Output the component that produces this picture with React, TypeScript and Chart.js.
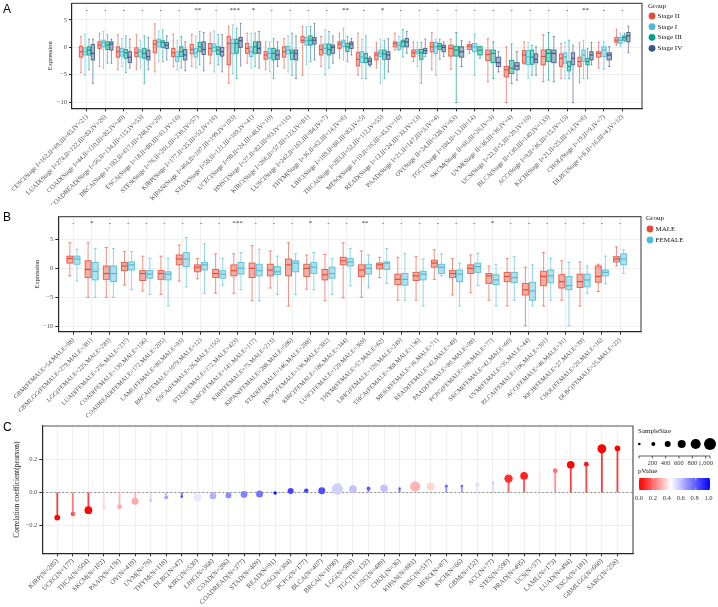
import React, { useEffect, useRef } from "react";
import { Chart, registerables } from "chart.js";

Chart.register(...registerables);

const SERIF = '"Liberation Serif", "DejaVu Serif", serif';
const SANS = '"Liberation Sans", Arial, sans-serif';
const GRID = "#EBEBEB";
const AXIS = "#262626";
const TICKTXT = "#4D4D4D";

// ---------------- Panel A : expression by stage ----------------
const stageNames = ["Stage II", "Stage I", "Stage III", "Stage IV"];
const stageColors = ["#E64B35", "#4DBBD5", "#00A087", "#3C5488"];
const categoriesA = [
  "CESC(Stage I=162,II=69,III=45,IV=21)",
  "LUAD(Stage I=274,II=122,III=83,IV=26)",
  "COAD(Stage I=44,II=110,III=82,IV=40)",
  "COADREAD(Stage I=56,II=134,III=115,IV=53)",
  "BRCA(Stage I=182,II=617,III=248,IV=20)",
  "ESCA(Stage I=18,II=80,III=61,IV=16)",
  "STES(Stage I=76,II=201,III=230,IV=57)",
  "KIRP(Stage I=177,II=25,III=52,IV=16)",
  "KIPAN(Stage I=464,II=107,III=199,IV=103)",
  "STAD(Stage I=58,II=121,III=169,IV=41)",
  "UCEC(Stage I=98,II=24,III=48,IV=10)",
  "HNSC(Stage I=27,II=82,III=93,IV=116)",
  "KIRC(Stage I=266,II=57,III=123,IV=81)",
  "LUSC(Stage I=242,II=161,III=84,IV=7)",
  "THYM(Stage I=36,II=62,III=14,IV=6)",
  "LIHC(Stage I=169,II=86,III=83,IV=5)",
  "THCA(Stage I=283,II=52,III=112,IV=55)",
  "MESO(Stage I=10,II=16,III=45,IV=16)",
  "READ(Stage I=12,II=24,III=33,IV=13)",
  "PAAD(Stage I=21,II=147,III=3,IV=4)",
  "OV(Stage II=24,III=328,IV=63)",
  "TGCT(Stage I=104,II=13,III=14)",
  "SKCM(Stage II=66,III=26,IV=3)",
  "UVM(Stage II=38,III=36,IV=4)",
  "UCS(Stage I=22,II=5,III=20,IV=10)",
  "BLCA(Stage II=130,III=140,IV=133)",
  "ACC(Stage I=9,II=36,III=15,IV=15)",
  "KICH(Stage I=21,II=25,III=14,IV=6)",
  "CHOL(Stage I=19,II=9,IV=7)",
  "DLBC(Stage I=8,II=16,III=4,IV=12)",
];
const signifA = ["-", "-", "-", "-", "-", "-", "**", "-", "***", "*", "-", "-", "-", "-", "**", "-", "*", "-", "-", "-", "-", "-", "-", "-", "-", "-", "-", "**", "-", "-"];
// each entry: [lower whisker, Q1, median, Q3, upper whisker]
const stageII_A = [
  [-4.6, -1.8, -0.8, 0.2, 2.0], [-3.5, -0.2, 0.4, 1.0, 2.6], [-4.1, -1.8, -0.8, 0.1, 2.3], [-4.1, -1.7, -1.0, -0.1, 2.3],
  [-4.5, -1.0, 0.6, 1.3, 4.3], [-3.5, -1.7, -1.0, -0.2, 2.4], [-3.5, -1.2, -0.4, 0.5, 2.4], [-3.0, -1.4, -0.2, 0.7, 2.6],
  [-6.6, -3.2, 0.7, 2.0, 3.8], [-2.9, -1.1, -0.2, 0.7, 2.6], [-4.1, -2.2, -1.4, -0.8, 1.0], [-3.8, -1.8, -0.8, 0.1, 1.6],
  [-5.1, 0.9, 1.3, 2.0, 3.8], [-3.5, -1.4, -0.4, 0.4, 2.0], [-2.0, -0.2, 0.6, 1.0, 2.6], [-5.1, -3.4, -2.2, -0.9, 2.6],
  [-3.8, -2.3, -1.4, -0.9, 0.9], [-0.5, 0.1, 0.7, 1.0, 2.6], [-2.6, -1.7, -1.0, -0.5, 1.0], [-4.1, -0.8, 0.1, 0.9, 2.7],
  [-4.0, -1.6, -0.2, 0.4, 1.5], [-1.1, -0.4, 0.2, 0.5, 1.0], [-6.3, -2.4, -1.3, -0.5, 1.6], [-10.1, -5.4, -4.1, -3.5, 0.1],
  [-3.1, -2.9, -1.4, -0.6, 1.0], [-6.3, -3.2, -1.7, -0.5, 2.3], [-5.7, -3.5, -2.0, -1.2, 0.7], [-6.5, -3.5, -2.6, -1.8, 0.9],
  [-3.8, -1.8, -1.1, -0.8, 0.9], [0.4, 0.9, 1.3, 1.8, 3.3],
];
const stageI_A = [
  [-5.1, -1.4, -0.8, -0.1, 2.4], [-3.8, 0.1, 0.9, 1.3, 2.9], [-3.5, -1.6, -0.8, -0.2, 1.6], [-3.8, -1.8, -0.8, -0.4, 1.3],
  [-2.6, 0.1, 1.0, 1.5, 3.0], [-4.1, -2.6, -1.7, -0.8, 1.3], [-3.8, -1.8, -1.0, -0.2, 2.0], [-4.5, -0.8, 0, 0.6, 3.0],
  [-4.8, -1.2, 0.7, 1.5, 4.1], [-3.8, -1.7, -0.8, 0.1, 2.6], [-4.5, -2.0, -1.1, -0.2, 1.0], [-4.5, -1.2, -0.5, 0.2, 2.1],
  [-3.2, 0.4, 1.2, 1.8, 3.8], [-5.1, -1.1, -0.2, 0.6, 3.2], [-2.3, 0.1, 0.9, 1.3, 3.5], [-5.7, -2.8, -1.8, -0.8, 1.5],
  [-6.6, -1.7, -1.1, -0.5, 1.5], [-0.6, -0.4, 0.4, 0.9, 2.0], [-3.5, -1.2, -0.8, -0.4, 0.9], [-5.1, -1.1, 0.1, 0.9, 1.5],
  null, [-5.1, -0.8, 0.1, 0.7, 2.4], null, null,
  [-5.7, -3.2, -1.7, -0.6, 0.9], null, [-5.7, -2.9, -1.7, -1.0, 0.9], [-5.7, -2.6, -1.4, -0.5, 1.3],
  [-4.0, -1.7, -0.5, 0.1, 1.0], [0.1, 0.7, 1.3, 1.8, 2.6],
];
const stageIII_A = [
  [-4.1, -1.4, -0.5, 0.1, 1.5], [-2.9, -0.4, 0.4, 1.0, 2.3], [-4.6, -2.0, -1.0, -0.4, 2.1], [-6.6, -2.0, -1.1, -0.2, 2.1],
  [-2.6, 0, 0.9, 1.2, 3.2], [-3.8, -1.7, -0.8, 0.1, 2.0], [-3.2, -0.8, 0.1, 0.9, 2.9], [-3.2, -1.3, -0.5, 0.1, 2.3],
  [-5.7, -1.1, 0.7, 1.5, 3.5], [-3.5, -1.1, 0.1, 1.0, 2.6], [-5.7, -2.3, -1.1, -0.2, 1.6], [-5.1, -2.2, -1.0, -0.5, 2.6],
  [-2.6, 0.4, 1.3, 2.1, 3.8], [-3.8, -1.4, -0.4, 0.6, 2.9], [-2.6, -0.8, 0.1, 0.7, 2.0], [-5.7, -2.8, -2.0, -1.1, 2.1],
  [-5.7, -2.2, -1.2, -0.5, 1.3], [-1.8, 0.1, 1.0, 1.3, 3.3], [-6.6, -2.2, -1.0, -0.4, 0.9], [-2.2, -0.4, 0.2, 0.7, 1.5],
  [-10.1, -1.6, -0.5, 0.2, 2.7], [-2.0, -1.4, -0.5, 0.1, 0.2], [-5.7, -2.8, -1.1, -0.5, 1.0], [-6.6, -4.8, -3.8, -2.4, 0.6],
  [-5.1, -3.1, -1.8, -0.5, 0.4], [-6.0, -2.6, -1.1, -0.4, 2.7], [-5.7, -4.3, -3.5, -2.6, 1.3], [-5.7, -3.2, -2.6, -2.0, -0.2],
  null, [1.0, 1.3, 1.8, 2.1, 2.6],
];
const stageIV_A = [
  [-6.6, -2.3, -1.1, 0.5, 1.5], [-2.9, -0.5, 0.6, 1.0, 1.5], [-3.8, -2.8, -1.8, -0.8, 1.5], [-4.1, -2.3, -1.7, -0.5, 1.8],
  [-2.3, -0.2, 0.4, 0.9, 2.1], [-4.3, -2.3, -1.4, -0.4, 1.0], [-4.3, -1.3, -0.4, 1.0, 2.7], [-4.5, -1.6, -0.8, 0, 2.3],
  [-3.4, 0, 1.2, 1.8, 4.4], [-3.8, -1.1, -0.2, 1.0, 2.9], [-3.5, -2.2, -1.4, -0.5, 1.0], [-5.7, -2.3, -1.1, -0.5, 2.1],
  [-2.3, 0.6, 1.3, 1.8, 4.4], [-2.9, -1.1, 0, 0.4, 2.1], [-1.4, -0.2, 0.6, 1.0, 1.6], [-3.5, -3.2, -2.5, -2.0, -1.7],
  [-4.5, -2.2, -1.4, -0.8, 1.6], [-1.1, 0.1, 1.0, 1.6, 2.9], [-1.7, -1.1, -0.6, -0.2, 1.5], [-1.7, -0.8, 0, 0.4, 1.0],
  [-3.5, -1.8, -0.8, 0.1, 1.2], null, [-4.5, -3.5, -2.8, -1.8, -0.8], [-6.0, -4.1, -3.4, -2.8, -0.8],
  [-5.1, -2.8, -2.2, -1.2, 0.1], [-6.3, -2.8, -1.1, -0.5, 2.0], [-10.1, -3.2, -2.0, -1.0, 0.4], [-3.2, -2.3, -1.4, -0.8, 0.9],
  [-3.5, -2.3, -1.4, -1.0, 0.1], [-1.0, 1.0, 2.1, 2.7, 3.9],
];
const yTicksA = [-10, -5, 0, 5];

// ---------------- Panel B : expression by gender ----------------
const genderNames = ["MALE", "FEMALE"];
const genderColors = ["#E64B35", "#4DBBD5"];
const cancersB = ["GBM", "GBMLGG", "LGG", "LUAD", "COAD", "COADREAD", "LAML", "BRCA", "ESCA", "STES", "SARC", "KIRP", "KIPAN", "STAD", "HNSC", "KIRC", "LUSC", "THYM", "LIHC", "THCA", "MESO", "READ", "PAAD", "PCPG", "SKCM", "UVM", "BLCA", "ACC", "KICH", "CHOL", "DLBC"];
const femaleN = [54, 279, 225, 276, 130, 172, 80, 1079, 26, 172, 141, 75, 288, 146, 136, 186, 129, 57, 120, 368, 16, 42, 80, 106, 42, 35, 106, 46, 27, 20, 25];
const maleN = [98, 381, 283, 237, 156, 205, 93, 12, 155, 423, 117, 213, 596, 288, 382, 344, 369, 62, 249, 136, 71, 49, 98, 77, 60, 44, 301, 31, 39, 16, 22];
const signifB = ["-", "*", "-", "-", "-", "-", "-", "-", "-", "***", "-", "-", "-", "*", "-", "-", "**", "-", "-", "-", "-", "-", "-", "*", "-", "-", "-", "-", "-", "-", "-"];
const male_B = [
  [-1.3, 0.9, 1.7, 2.1, 4.4], [-5.0, -1.6, -0.2, 1.3, 4.4], [-5.0, -1.9, -0.9, 0.4, 3.6], [-2.9, -0.4, 0.4, 1.0, 2.9],
  [-3.9, -2.1, -0.9, -0.4, 2.1], [-4.5, -1.9, -0.9, -0.4, 2.1], [-2.2, 0.6, 1.6, 2.3, 4.0], [-1.8, -0.6, 0.2, 0.6, 1.7],
  [-4.3, -1.6, -0.9, -0.2, 2.5], [-4.3, -1.3, -0.4, 0.6, 2.5], [-5.6, -1.6, 0, 0.9, 3.9], [-3.4, -1.3, -0.3, 0.7, 3.0],
  [-6.5, -1.3, 0.6, 1.6, 4.4], [-3.6, -1.4, 0, 0.7, 2.3], [-5.6, -2.0, -1.1, -0.2, 2.4], [-5.1, 0.6, 1.3, 1.9, 4.4],
  [-5.0, -1.4, -0.3, 0.6, 3.0], [-1.6, -0.1, 0.6, 0.9, 1.9], [-5.5, -2.8, -1.9, -1.0, 1.9], [-5.5, -2.1, -1.3, -0.7, 2.0],
  [-1.9, 0.2, 0.9, 1.4, 3.2], [-4.6, -1.6, -0.9, -0.4, 1.7], [-4.2, -0.9, 0, 0.6, 2.3], [-5.5, -2.6, -1.3, -0.9, 0.4],
  [-6.5, -2.3, -1.4, -0.7, 1.7], [-9.9, -4.6, -3.7, -2.6, 0.2], [-6.5, -3.0, -1.4, -0.5, 2.7], [-5.5, -3.4, -2.3, -1.1, 1.3],
  [-6.5, -3.3, -2.3, -1.0, 1.1], [-4.0, -2.4, -1.4, 0.4, 0.7], [0.4, 1.1, 1.6, 2.0, 3.7],
];
const female_B = [
  [-2.2, 0.7, 1.6, 2.1, 3.3], [-5.0, -2.0, -0.5, 1.0, 3.4], [-5.0, -2.3, -0.9, 0.4, 3.4], [-3.7, -0.3, 0.6, 1.1, 2.9],
  [-4.5, -1.7, -1.0, -0.4, 1.7], [-6.5, -2.0, -1.0, -0.6, 1.7], [-3.2, 0.3, 1.6, 2.7, 5.3], [-4.3, -0.3, 0.6, 1.0, 4.2],
  [-2.9, -1.7, -1.0, -0.4, 1.7], [-3.7, -1.0, 0, 1.0, 2.7], [-5.6, -1.3, -0.4, 0.7, 3.3], [-4.5, -1.1, -0.6, 0.3, 2.1],
  [-4.5, -0.6, 0.9, 1.3, 2.5], [-3.7, -0.9, 0.2, 1.0, 2.7], [-4.5, -1.7, -0.9, 0.2, 1.7], [-3.0, 0.4, 1.1, 1.7, 3.4],
  [-3.4, -1.0, 0, 0.7, 2.3], [-2.6, -0.2, 0.9, 1.1, 3.4], [-5.5, -2.9, -1.9, -0.9, 2.5], [-6.5, -2.0, -1.0, -0.5, 1.6],
  [-1.3, -0.9, 0.2, 0.7, 2.5], [-6.5, -2.3, -1.0, -0.3, 0.9], [-3.0, -0.7, 0.3, 0.9, 2.6], [-6.5, -2.8, -2.0, -1.1, 0.7],
  [-5.5, -2.5, -1.6, -0.7, 2.0], [-6.5, -5.5, -3.9, -2.4, 0.6], [-5.5, -2.5, -1.3, -0.3, 1.7], [-9.9, -3.7, -3.0, -1.4, 1.0],
  [-4.3, -3.2, -2.0, -1.0, 0.4], [-2.7, -1.3, -0.7, -0.3, 2.1], [-0.9, 0.6, 1.6, 2.5, 3.2],
];
const yTicksB = [-10, -5, 0, 5];

// ---------------- Panel C : correlation lollipop ----------------
const cancersC = ["KIRP", "UCEC", "THCA", "SKCM", "PAAD", "OV", "UVM", "THYM", "DLBC", "KIRC", "LIHC", "COAD", "COADREAD", "STAD", "READ", "CESC", "PCPG", "BLCA", "BRCA", "LGG", "TGCT", "LUSC", "CHOL", "KIPAN", "HNSC", "MESO", "KICH", "GBM", "ACC", "STES", "PRAD", "UCS", "LAML", "LUAD", "ESCA", "GBMLGG", "SARC"];
const sampleSizeC = [285, 177, 504, 102, 178, 419, 79, 118, 47, 530, 368, 286, 377, 409, 91, 304, 177, 407, 1090, 508, 132, 489, 36, 881, 517, 87, 66, 152, 77, 590, 495, 57, 173, 494, 181, 660, 258];
const corrC = [-0.152, -0.13, -0.107, -0.09, -0.087, -0.053, -0.05, -0.03, -0.026, -0.03, -0.022, -0.018, -0.012, -0.01, -0.004, 0.008, 0.01, 0.01, 0.02, 0.02, 0.024, 0.024, 0.024, 0.036, 0.036, 0.038, 0.038, 0.046, 0.057, 0.083, 0.099, 0.109, 0.131, 0.166, 0.17, 0.263, 0.265];
const pValueC = [0.01, 0.15, 0.01, 0.38, 0.3, 0.3, 0.55, 0.65, 0.85, 0.5, 0.62, 0.7, 0.72, 0.75, 0.97, 0.85, 0.85, 0.83, 0.55, 0.58, 0.8, 0.58, 0.83, 0.32, 0.38, 0.76, 0.76, 0.52, 0.55, 0.08, 0.06, 0.4, 0.2, 0.005, 0.03, 0.0, 0.0];
const yTicksC = [-0.2, 0, 0.2];
const sizeLegendLabels = ["200", "400", "600", "800", "1,000"];
const pLegendLabels = ["0.0", "0.2", "0.4", "0.6", "0.8", "1.0"];

// ---------------- helpers ----------------
function rgba(hex: string, a: number) {
  const n = parseInt(hex.slice(1), 16);
  return `rgba(${(n >> 16) & 255},${(n >> 8) & 255},${n & 255},${a})`;
}
const P_MID = 0.45;
function pRGB(p: number): number[] {
  if (p <= P_MID) {
    const g = Math.round(255 * (p / P_MID));
    return [255, g, g];
  }
  const r = Math.round(255 * (1 - (p - P_MID) / (1 - P_MID)));
  return [r, r, 255];
}
function pColor(p: number, a = 1) {
  const [r, g, b] = pRGB(p);
  return `rgba(${r},${g},${b},${a})`;
}
const nMin = Math.min(...sampleSizeC);
const nMax = Math.max(...sampleSizeC);
function sizeRadius(n: number) {
  const r0 = 1.1, r1 = 5.7;
  return Math.sqrt(r0 * r0 + (r1 * r1 - r0 * r0) * (n - nMin) / (nMax - nMin));
}
const minusFmt = (v: any) => String(v).replace("-", "\u2212");

function catAxis(labels: string[], min: number, max: number, h: number, size: number, pad: number) {
  return {
    type: "linear", position: "bottom", min, max, bounds: "data", offset: false,
    afterBuildTicks: (s: any) => { s.ticks = labels.map((_, i) => ({ value: i })); },
    afterFit: (s: any) => { s.height = h; s.paddingLeft = 0; s.paddingRight = 0; },
    ticks: {
      autoSkip: false, minRotation: 45, maxRotation: 45, padding: pad, color: TICKTXT,
      font: { family: SERIF, size }, callback: (v: any) => labels[Math.round(Number(v))] ?? "",
    },
    grid: { color: GRID, lineWidth: 0.8, offset: false, drawTicks: true, tickLength: 3, tickColor: AXIS, tickWidth: 1 },
    border: { display: true, color: AXIS, width: 1.2 },
  };
}
function valAxis(min: number, max: number, ticksArr: number[], w: number, title: string, tSize: number, fmt: (v: any) => string) {
  return {
    type: "linear", position: "left", min, max, bounds: "data",
    afterBuildTicks: (s: any) => { s.ticks = ticksArr.map((v) => ({ value: v })); },
    afterFit: (s: any) => { s.width = w; s.paddingTop = 0; s.paddingBottom = 0; },
    ticks: { padding: 2, color: TICKTXT, font: { family: SERIF, size: 6.5 }, callback: fmt },
    grid: { color: GRID, lineWidth: 0.8, drawTicks: true, tickLength: 3, tickColor: AXIS, tickWidth: 1 },
    border: { display: true, color: AXIS, width: 1.2 },
    title: { display: true, text: title, color: "#1a1a1a", font: { family: SERIF, size: tSize }, padding: 0 },
  };
}

function boxPlugin(id: string, series: (number[] | null)[][], colors: string[], groupW: number, sig: string[], sigY: number) {
  return {
    id,
    beforeDatasetsDraw(chart: any) {
      const { ctx, scales } = chart;
      const x = scales.x, y = scales.y;
      const unit = Math.abs(x.getPixelForValue(1) - x.getPixelForValue(0));
      const nCat = series[0].length;
      ctx.save();
      for (let i = 0; i < nCat; i++) {
        const present: number[] = [];
        series.forEach((s, si) => { if (s[i]) present.push(si); });
        const m = present.length;
        present.forEach((si, j) => {
          const [lo, q1, med, q3, hi] = series[si][i] as number[];
          const cx = x.getPixelForValue(i - groupW / 2 + (j + 0.5) * groupW / m);
          const bw = unit * groupW / m * 0.84;
          const col = colors[si];
          const pLo = y.getPixelForValue(lo), pQ1 = y.getPixelForValue(q1), pMed = y.getPixelForValue(med);
          const pQ3 = y.getPixelForValue(q3), pHi = y.getPixelForValue(hi);
          ctx.strokeStyle = rgba(col, 0.6);
          ctx.lineWidth = 1;
          ctx.beginPath();
          ctx.moveTo(cx, pHi); ctx.lineTo(cx, pQ3);
          ctx.moveTo(cx, pQ1); ctx.lineTo(cx, pLo);
          ctx.moveTo(cx - bw * 0.28, pHi); ctx.lineTo(cx + bw * 0.28, pHi);
          ctx.moveTo(cx - bw * 0.28, pLo); ctx.lineTo(cx + bw * 0.28, pLo);
          ctx.stroke();
          ctx.fillStyle = rgba(col, 0.45);
          ctx.fillRect(cx - bw / 2, pQ3, bw, pQ1 - pQ3);
          ctx.strokeStyle = rgba(col, 0.9);
          ctx.lineWidth = 0.9;
          ctx.strokeRect(cx - bw / 2, pQ3, bw, pQ1 - pQ3);
          ctx.lineWidth = 1.2;
          ctx.strokeStyle = col;
          ctx.beginPath();
          ctx.moveTo(cx - bw / 2, pMed); ctx.lineTo(cx + bw / 2, pMed);
          ctx.stroke();
        });
        ctx.fillStyle = "#333";
        ctx.font = `7px ${SERIF}`;
        ctx.textAlign = "center";
        ctx.textBaseline = "middle";
        ctx.fillText(sig[i], x.getPixelForValue(i), y.getPixelForValue(sigY));
      }
      ctx.restore();
    },
  };
}

function framePlugin(id: string, letter: string, letterY: number, legend?: (ctx: CanvasRenderingContext2D) => void) {
  return {
    id,
    afterDraw(chart: any) {
      const { ctx, chartArea } = chart;
      ctx.save();
      ctx.strokeStyle = "#555";
      ctx.lineWidth = 1.2;
      ctx.beginPath();
      ctx.moveTo(chartArea.left, chartArea.top);
      ctx.lineTo(chartArea.right, chartArea.top);
      ctx.lineTo(chartArea.right, chartArea.bottom);
      ctx.stroke();
      ctx.fillStyle = "#000";
      ctx.font = `12px ${SANS}`;
      ctx.textAlign = "left";
      ctx.textBaseline = "alphabetic";
      ctx.fillText(letter, 3, letterY);
      if (legend) legend(ctx);
      ctx.restore();
    },
  };
}

function groupLegend(names: string[], colors: string[], x: number, titleY: number, ys: number[]) {
  return (ctx: CanvasRenderingContext2D) => {
    ctx.fillStyle = "#111";
    ctx.font = `7px ${SERIF}`;
    ctx.textAlign = "left";
    ctx.textBaseline = "middle";
    ctx.fillText("Group", x, titleY);
    names.forEach((n, i) => {
      ctx.fillStyle = colors[i];
      ctx.beginPath();
      ctx.arc(x + 4, ys[i], 3.4, 0, Math.PI * 2);
      ctx.fill();
      ctx.fillStyle = "#111";
      ctx.fillText(n, x + 9.5, ys[i]);
    });
  };
}

function baseOptions(padding: any, scales: any) {
  return {
    responsive: false,
    animation: false,
    devicePixelRatio: 1,
    events: [],
    layout: { padding },
    plugins: { legend: { display: false }, tooltip: { enabled: false } },
    scales,
  };
}

function configA(): any {
  const series = [stageII_A, stageI_A, stageIII_A, stageIV_A];
  return {
    type: "scatter",
    data: { datasets: [] },
    options: baseOptions(
      { left: 46.6, right: 76, top: 3.3, bottom: 0 },
      {
        x: catAxis(categoriesA, -0.81, 30.06, 96.7, 6.5, 2),
        y: valAxis(-11.15, 8.05, yTicksA, 25.4, "Expression", 6.5, minusFmt),
      }
    ),
    plugins: [
      boxPlugin("boxA", series, stageColors, 0.86, signifA, 6.83),
      framePlugin("frameA", "A", 13.4, groupLegend(stageNames, stageColors, 648, 6.5, [16, 26.7, 37.3, 48.3])),
    ],
  };
}

function configB(): any {
  const labelsB = cancersB.map((c, i) => `${c}(FEMALE=${femaleN[i]},MALE=${maleN[i]})`);
  return {
    type: "scatter",
    data: { datasets: [] },
    options: baseOptions(
      { left: 33.6, right: 77, top: 11.7, bottom: 0 },
      {
        x: catAxis(labelsB, -0.83, 31.15, 88.3, 6.3, 2),
        y: valAxis(-10.93, 8.9, yTicksB, 24.7, "Expression", 6.5, minusFmt),
      }
    ),
    plugins: [
      boxPlugin("boxB", [male_B, female_B], genderColors, 0.78, signifB, 7.8),
      framePlugin("frameB", "B", 16, groupLegend(genderNames, genderColors, 646, 13.5, [24, 35])),
    ],
  };
}

function configC(): any {
  const labelsC = cancersC.map((c, i) => `${c}(N=${sampleSizeC[i]})`);
  const pointColors = pValueC.map((p) => pColor(p));
  const stemColors = pValueC.map((p) => pColor(p, 0.75));
  const radii = sampleSizeC.map(sizeRadius);
  const legendC = (ctx: CanvasRenderingContext2D) => {
    ctx.fillStyle = "#111";
    ctx.font = `7px ${SERIF}`;
    ctx.textAlign = "left";
    ctx.textBaseline = "middle";
    ctx.fillText("SampleSize", 638, 16);
    const dotX = [639.3, 653.3, 667.7, 681.7, 695.7, 710];
    const dotR = [1.3, 2, 3, 4, 5, 6];
    ctx.fillStyle = "#000";
    dotX.forEach((dx, i) => { ctx.beginPath(); ctx.arc(dx, 29, dotR[i], 0, Math.PI * 2); ctx.fill(); });
    ctx.strokeStyle = "#333";
    ctx.lineWidth = 0.8;
    ctx.beginPath();
    ctx.moveTo(639, 41); ctx.lineTo(710, 41);
    for (let k = 0; k <= 5; k++) { const tx = 639 + k * 13.33; ctx.moveTo(tx, 41); ctx.lineTo(tx, 43.5); }
    ctx.moveTo(710, 41); ctx.lineTo(710, 43.5);
    ctx.stroke();
    ctx.fillStyle = "#333";
    ctx.font = `6.5px ${SERIF}`;
    ctx.textAlign = "center";
    sizeLegendLabels.forEach((t, i) => ctx.fillText(t, 652.3 + i * 13.33, 48));
    ctx.fillStyle = "#111";
    ctx.font = `7px ${SERIF}`;
    ctx.textAlign = "left";
    ctx.fillText("pValue", 638, 56);
    const g = ctx.createLinearGradient(639, 0, 710, 0);
    g.addColorStop(0, "#FF0000");
    g.addColorStop(0.06, "#FF1A1A");
    g.addColorStop(P_MID, "#FFFFFF");
    g.addColorStop(1, "#0000FF");
    ctx.fillStyle = g;
    ctx.fillRect(639, 63, 71, 12);
    ctx.strokeStyle = "rgba(255,255,255,0.9)";
    ctx.lineWidth = 0.6;
    ctx.beginPath();
    for (let k = 0; k <= 5; k++) {
      const tx = 639 + k * 14.2;
      ctx.moveTo(tx, 63); ctx.lineTo(tx, 65.5);
      ctx.moveTo(tx, 75); ctx.lineTo(tx, 72.5);
    }
    ctx.stroke();
    ctx.fillStyle = "#333";
    ctx.font = `6.5px ${SERIF}`;
    ctx.textAlign = "center";
    pLegendLabels.forEach((t, i) => ctx.fillText(t, 639 + i * 13.9, 83));
  };
  const zeroLine = {
    id: "zeroC",
    beforeDatasetsDraw(chart: any) {
      const { ctx, chartArea, scales } = chart;
      const yy = scales.y.getPixelForValue(0);
      ctx.save();
      ctx.strokeStyle = "#777";
      ctx.lineWidth = 0.8;
      ctx.setLineDash([2, 2]);
      ctx.beginPath();
      ctx.moveTo(chartArea.left, yy);
      ctx.lineTo(chartArea.right, yy);
      ctx.stroke();
      ctx.restore();
    },
  };
  return {
    type: "scatter",
    data: {
      datasets: [
        {
          type: "bar",
          data: corrC.map((v, i) => ({ x: i, y: [0, v] })),
          backgroundColor: stemColors,
          borderWidth: 0,
          barThickness: 1.2,
          order: 2,
        },
        {
          type: "scatter",
          data: corrC.map((v, i) => ({ x: i, y: v })),
          pointRadius: radii,
          pointHoverRadius: radii,
          pointBackgroundColor: pointColors,
          pointBorderWidth: 0,
          pointBorderColor: "rgba(0,0,0,0)",
          order: 1,
        },
      ],
    },
    options: baseOptions(
      { left: 12.5, right: 85, top: 11, bottom: 0 },
      {
        x: { ...catAxis(labelsC, -0.963, 37.0, 53.7, 6.8, 1), grid: { color: GRID, lineWidth: 0.8, offset: false, drawTicks: true, tickLength: 3, tickColor: AXIS, tickWidth: 1 } },
        y: valAxis(-0.367, 0.4, yTicksC, 29.8, "Correlation coefficient(pearson)", 7.5, (v: any) => {
          const n = Number(v);
          return Math.abs(n) < 1e-9 ? "0.0" : n.toFixed(1).replace("-", "\u2212");
        }),
      }
    ),
    plugins: [zeroLine, framePlugin("frameC", "C", 15.7, legendC)],
  };
}

export default function App() {
  const refA = useRef<HTMLCanvasElement>(null);
  const refB = useRef<HTMLCanvasElement>(null);
  const refC = useRef<HTMLCanvasElement>(null);
  useEffect(() => {
    Chart.defaults.font.family = SERIF;
    const charts = [
      new Chart(refA.current as HTMLCanvasElement, configA()),
      new Chart(refB.current as HTMLCanvasElement, configB()),
      new Chart(refC.current as HTMLCanvasElement, configC()),
    ];
    return () => charts.forEach((c) => c.destroy());
  }, []);
  return (
    <div style={{ position: "absolute", left: 0, top: 0, width: 718, height: 607, background: "#fff", overflow: "hidden" }}>
      <canvas ref={refA} width={718} height={205} style={{ position: "absolute", left: 0, top: 0 }} />
      <canvas ref={refB} width={718} height={215} style={{ position: "absolute", left: 0, top: 205 }} />
      <canvas ref={refC} width={718} height={192} style={{ position: "absolute", left: 0, top: 415 }} />
    </div>
  );
}
